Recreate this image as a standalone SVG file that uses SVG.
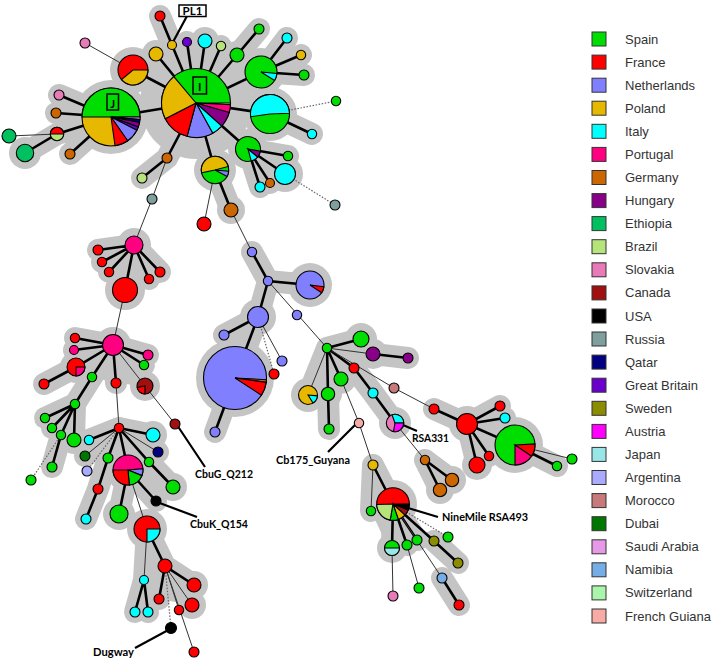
<svg xmlns="http://www.w3.org/2000/svg" width="712" height="659" viewBox="0 0 712 659">
<style>
.h{fill:none;stroke:#c4c4c4;stroke-width:22;stroke-linecap:round;stroke-linejoin:round}
.hc{fill:#c4c4c4}
.T{fill:none;stroke:#000;stroke-width:2.6;stroke-linecap:round}
.t{fill:none;stroke:#333;stroke-width:1}
.d{fill:none;stroke:#666;stroke-width:1.2;stroke-dasharray:1.5 1.6}
.L{fill:none;stroke:#000;stroke-width:2.2}
.n circle,.n path{stroke:#000;stroke-width:1.1}
.sp{fill:#00dd00}.fr{fill:#ff0000}.nl{fill:#8080ff}.pl{fill:#e6b800}.it{fill:#00ffff}.pt{fill:#ff0080}.de{fill:#cc6600}.hu{fill:#880088}.et{fill:#00c060}.br{fill:#b4e47a}.sk{fill:#e87ab8}.ca{fill:#a01010}.us{fill:#000}.ru{fill:#7f9f9f}.qa{fill:#000080}.gb{fill:#6a00cc}.se{fill:#8c8c00}.at{fill:#ff00ff}.jp{fill:#99e6e6}.ar{fill:#aaaaff}.ma{fill:#c87a7a}.du{fill:#007700}.sa{fill:#e699e6}.na{fill:#75aee6}.ch{fill:#aaf5aa}.gf{fill:#f8aaa4}
.lab{font-family:Lato,"Liberation Sans",sans-serif;font-weight:bold;font-size:11.5px;fill:#000}
.leg{font-family:"Liberation Sans",Arial,sans-serif;font-size:13px;fill:#333}
.lg rect{stroke:#333;stroke-width:1}
</style>
<rect width="712" height="659" fill="#fff"/>
<g id="halos">
<path class="h" d="M111,117L196,103 M111,117L59,95 M111,117L56,113 M111,117L70,154 M111,117L57,134L25,153 M196,103L133,70 M196,103L156,54 M196,103L172,45L160,16 M196,103L187,42 M196,103L205,41 M196,103L221,46 M196,103L237,55L259,29 M196,103L261,72L287,38 M261,72L301,55 M261,72L304,75 M196,103L270,114L312,134 M196,103L248,149L288,156 M248,149L285,174 M248,149L270,183 M248,149L260,187 M196,103L215,170L231,210 M196,103L167,158L142,178"/>
<circle class="hc" cx="196" cy="103" r="56"/><circle class="hc" cx="111" cy="117" r="37"/><circle class="hc" cx="133" cy="70" r="23"/><circle class="hc" cx="270" cy="114" r="27"/><circle class="hc" cx="261" cy="72" r="24"/><circle class="hc" cx="248" cy="149" r="20"/><circle class="hc" cx="215" cy="170" r="21"/><circle class="hc" cx="285" cy="174" r="18"/><circle class="hc" cx="231" cy="210" r="14"/><circle class="hc" cx="25" cy="153" r="16"/><circle class="hc" cx="156" cy="54" r="14"/><circle class="hc" cx="205" cy="41" r="14"/><circle class="hc" cx="237" cy="55" r="14"/>
<path class="h" d="M134,245L98,250 M134,245L102,262 M134,245L109,272 M134,245L149,279 M134,245L160,272 M134,245L125,290"/>
<polygon class="hc" points="98,250 134,240 160,272 149,279 125,290 109,272 102,262"/>
<circle class="hc" cx="134" cy="245" r="17"/><circle class="hc" cx="125" cy="290" r="20"/>
<path class="h" d="M113,345L75,338 M113,345L74,350 M113,345L76,367L44,384 M113,345L148,355 M113,345L144,365 M113,345L92,377L75,404 M113,345L116,383 M113,345L145,386 M75,404L45,418 M75,404L52,428 M75,404L61,435L52,467 M75,404L74,440"/>
<polygon class="hc" points="75,338 113,335 148,355 145,386 116,383 92,377 76,367 74,350"/>
<circle class="hc" cx="113" cy="345" r="18"/><circle class="hc" cx="76" cy="367" r="16"/><circle class="hc" cx="145" cy="386" r="15"/><circle class="hc" cx="74" cy="440" r="14"/>
<path class="h" d="M119,428L153,435 M119,428L158,452 M119,428L149,462L173,487 M119,428L89,440 M119,428L85,456 M119,428L108,458L98,489L86,519 M119,428L128,470L119,514 M128,470L156,501"/>
<polygon class="hc" points="89,440 119,422 153,435 158,452 149,462 128,470 108,458"/>
<circle class="hc" cx="128" cy="470" r="22"/><circle class="hc" cx="119" cy="514" r="16"/><circle class="hc" cx="173" cy="487" r="14"/><circle class="hc" cx="153" cy="435" r="14"/>
<path class="h" d="M147,529L144,580 M147,529L165,566L194,585 M165,566L159,599 M165,566L192,605 M144,580L135,612 M144,580L148,612"/>
<polygon class="hc" points="147,529 165,566 194,585 192,605 159,599 148,612 135,612 144,580"/>
<circle class="hc" cx="147" cy="529" r="20"/><circle class="hc" cx="194" cy="585" r="14"/><circle class="hc" cx="192" cy="605" r="14"/>
<path class="h" d="M252,252L268,281L310,285 M268,281L258,317L224,335 M258,317L235,378L215,432"/>
<circle class="hc" cx="235" cy="378" r="39"/><circle class="hc" cx="310" cy="285" r="22"/><circle class="hc" cx="258" cy="317" r="18"/>
<path class="h" d="M327,348L361,339 M327,348L373,354L408,358 M327,348L354,368L373,393L395,423 M327,348L341,379 M327,348L308,395 M327,348L328,394L329,429"/>
<circle class="hc" cx="361" cy="339" r="16"/><circle class="hc" cx="373" cy="354" r="15"/><circle class="hc" cx="395" cy="423" r="16"/><circle class="hc" cx="308" cy="395" r="17"/><circle class="hc" cx="341" cy="379" r="15"/><circle class="hc" cx="328" cy="394" r="14"/>
<path class="h" d="M425,460L452,480 M425,460L440,490"/>
<circle class="hc" cx="452" cy="480" r="14"/><circle class="hc" cx="440" cy="490" r="14"/>
<path class="h" d="M434,409L467,424L500,406 M467,424L505,418 M467,424L477,465 M467,424L489,456 M467,424L515,445L557,466"/>
<polygon class="hc" points="467,414 515,445 477,465"/>
<circle class="hc" cx="467" cy="424" r="18"/><circle class="hc" cx="515" cy="445" r="28"/><circle class="hc" cx="477" cy="465" r="15"/>
<path class="h" d="M373,465L393,504 M373,465L371,511 M393,504L392,548 M393,504L407,545 M393,504L417,540 M434,541L458,563 M442,578L459,605"/>
<polygon class="hc" points="373,465 393,488 417,540 407,545 392,556 371,511"/>
<circle class="hc" cx="393" cy="504" r="24"/><circle class="hc" cx="392" cy="548" r="15"/>
</g>
<g id="connectors">
<path class="T" d="M111,117L196,103 M111,117L59,95 M111,117L56,113 M111,117L70,154 M111,117L57,134L25,153 M196,103L133,70 M196,103L156,54 M196,103L172,45L160,16 M196,103L187,42 M196,103L205,41 M196,103L221,46 M196,103L237,55L259,29 M196,103L261,72L287,38 M261,72L301,55 M261,72L304,75 M196,103L270,114L312,134 M196,103L248,149L288,156 M248,149L285,174 M248,149L270,183 M248,149L260,187 M196,103L215,170L231,210 M196,103L167,158L142,178"/>
<path class="t" d="M57,134L9,136 M133,70L85,43 M215,170L204,224 M167,158L152,199L134,245"/>
<path class="d" d="M270,114L336,101 M285,174L335,205"/>
<path class="T" d="M134,245L98,250 M134,245L102,262 M134,245L109,272 M134,245L149,279 M134,245L160,272 M134,245L125,290"/>
<path class="t" d="M125,290L113,345 M113,345L145,386L175,424 M116,383L119,428"/>
<path class="T" d="M113,345L75,338 M113,345L74,350 M113,345L76,367L44,384 M113,345L148,355 M113,345L144,365 M113,345L92,377L75,404 M113,345L116,383 M75,404L45,418 M75,404L52,428 M75,404L61,435L52,467 M75,404L74,440"/>
<path class="d" d="M61,435L31,480 M119,428L87,471 M165,566L171,628"/>
<path class="T" d="M119,428L153,435 M119,428L149,462L173,487 M119,428L89,440 M119,428L108,458L98,489L86,519 M119,428L128,470L119,514 M128,470L156,501"/>
<path class="t" d="M119,428L158,452 M119,428L85,456 M128,470L147,529L144,580 M165,566L179,610 M165,566L192,605 M165,566L194,652"/>
<path class="T" d="M147,529L165,566L194,585 M165,566L159,599 M144,580L135,612 M144,580L148,612"/>
<path class="t" d="M231,210L252,252 M268,281L327,348 M258,317L282,361"/>
<path class="T" d="M252,252L268,281L310,285 M268,281L258,317L224,335 M258,317L235,378L215,432"/>
<path class="d" d="M258,317L274,374"/>
<path class="T" d="M327,348L361,339 M373,354L408,358 M327,348L354,368L373,393L395,423 M327,348L341,379 M327,348L328,394L329,429"/>
<path class="t" d="M327,348L373,354 M327,348L308,395 M395,423L425,460 M327,348L394,388L434,409 M341,379L359,423L373,465 M373,465L371,511"/>
<path class="T" d="M425,460L452,480 M425,460L440,490 M434,409L467,424L500,406 M467,424L505,418 M467,424L477,465 M467,424L489,456 M467,424L515,445L557,466"/>
<path class="t" d="M515,445L572,459"/>
<path class="T" d="M373,465L393,504 M393,504L392,548 M393,504L407,545 M393,504L417,540 M393,504L434,541L458,563 M442,578L459,605"/>
<path class="t" d="M392,548L393,596 M407,545L419,588 M393,504L442,578"/>
<path class="d" d="M393,504L448,537"/>
<path class="L" d="M187,16L173,42 M177,425L205,467 M157,502L197,517 M172,628L135,648 M355,425L328,452 M403,425L417,431 M408,508L438,517"/>
</g>
<g id="nodes" class="n">
<g id="node-J"><circle class="pl" cx="111" cy="117" r="29"/><path class="sp" d="M82,117A29,29 0 0,1 140,117Z"/><path class="sa" d="M111,117L140,117A29,29 0 0,1 139.89,119.53Z"/><path class="qa" d="M111,117L139.89,119.53A29,29 0 0,1 139.47,122.53Z"/><path class="hu" d="M111,117L139.47,122.53A29,29 0 0,1 138.25,126.92Z"/><path class="gb" d="M111,117L138.25,126.92A29,29 0 0,1 136.84,130.17Z"/><path class="nl" d="M111,117L136.84,130.17A29,29 0 0,1 127.63,140.76Z"/><path class="fr" d="M111,117L127.63,140.76A29,29 0 0,1 115.04,145.72Z"/><rect x="107" y="94" width="11.5" height="16" fill="none" stroke="#000" stroke-width="1.5"/><text class="lab" x="112.7" y="107.5" text-anchor="middle" font-size="13">J</text></g>
<g id="node-I"><circle class="sp" cx="196" cy="103" r="34.5"/><path class="br" d="M196,103L230.5,103A34.5,34.5 0 0,1 230.45,104.81Z"/><path class="pt" d="M196,103L230.45,104.81A34.5,34.5 0 0,1 229.16,112.51Z"/><path class="hu" d="M196,103L229.16,112.51A34.5,34.5 0 0,1 221.64,126.08Z"/><path class="it" d="M196,103L221.64,126.08A34.5,34.5 0 0,1 212.73,133.17Z"/><path class="nl" d="M196,103L212.73,133.17A34.5,34.5 0 0,1 187.07,136.32Z"/><path class="fr" d="M196,103L187.07,136.32A34.5,34.5 0 0,1 165.26,118.66Z"/><path class="pl" d="M196,103L165.26,118.66A34.5,34.5 0 0,1 173.82,76.57Z"/><rect x="193" y="77" width="13.5" height="17" fill="none" stroke="#000" stroke-width="1.5"/><text class="lab" x="199.8" y="91" text-anchor="middle" font-size="14">I</text></g>
<g id="n1"><circle class="br" cx="57" cy="134" r="6.7"/><path class="fr" d="M50.3,134A6.7,6.7 0 0,1 63.7,134Z"/></g>
<g id="n2"><circle class="et" cx="9" cy="136" r="7"/></g>
<g id="n3"><circle class="et" cx="25" cy="153" r="8.7"/></g>
<g id="n4"><circle class="sk" cx="59" cy="95" r="5"/></g>
<g id="n5"><circle class="de" cx="56" cy="113" r="5"/></g>
<g id="n6"><circle class="de" cx="70" cy="154" r="5"/></g>
<g id="n7"><circle class="fr" cx="133" cy="70" r="15"/><path class="pl" d="M133,70L148,70A15,15 0 0,1 121.51,79.64Z"/></g>
<g id="n8"><circle class="sk" cx="85" cy="43" r="5"/></g>
<g id="n9"><circle class="fr" cx="160" cy="16" r="5"/></g>
<g id="n10"><circle class="pl" cx="172" cy="45" r="4.5"/></g>
<g id="n11"><circle class="pl" cx="156" cy="54" r="7"/></g>
<g id="n12"><circle class="gb" cx="187" cy="42" r="4.5"/></g>
<g id="n13"><circle class="it" cx="205" cy="41" r="7"/></g>
<g id="n14"><circle class="br" cx="221" cy="46" r="4.7"/></g>
<g id="n15"><circle class="sp" cx="237" cy="55" r="7"/></g>
<g id="n16"><circle class="sp" cx="259" cy="29" r="5"/></g>
<g id="n17"><circle class="sp" cx="261" cy="72" r="16"/><path class="it" d="M261,72L276.94,73.39A16,16 0 0,1 274.57,80.48Z"/></g>
<g id="n18"><circle class="it" cx="287" cy="38" r="5"/></g>
<g id="n19"><circle class="pl" cx="301" cy="55" r="4.7"/></g>
<g id="n20"><circle class="sp" cx="304" cy="75" r="5"/></g>
<g id="n21"><circle class="sp" cx="270" cy="114" r="19.5"/><path class="it" d="M270,114L250.69,116.71A19.5,19.5 0 1,1 289.49,113.32Z"/></g>
<g id="n22"><circle class="it" cx="312" cy="134" r="4.7"/></g>
<g id="n23"><circle class="sp" cx="336" cy="101" r="4.7"/></g>
<g id="n24"><circle class="sp" cx="248" cy="149" r="12.5"/><path class="hu" d="M248,149L260.31,151.17A12.5,12.5 0 0,1 257.58,157.03Z"/><path class="it" d="M248,149L257.58,157.03A12.5,12.5 0 0,1 251.24,161.07Z"/></g>
<g id="n25"><circle class="sp" cx="288" cy="156" r="4.7"/></g>
<g id="n26"><circle class="it" cx="285" cy="174" r="10.5"/></g>
<g id="n27"><circle class="de" cx="270" cy="183" r="4.5"/></g>
<g id="n28"><circle class="it" cx="260" cy="187" r="5"/></g>
<g id="n29"><circle class="ru" cx="335" cy="205" r="5"/></g>
<g id="n30"><circle class="sp" cx="215" cy="170" r="13.7"/><path class="pl" d="M215,170L201.6,172.85A13.7,13.7 0 0,1 228.23,166.45Z"/><path class="nl" d="M215,170L228.65,171.19A13.7,13.7 0 0,1 227.1,176.43Z"/></g>
<g id="n31"><circle class="fr" cx="204" cy="224" r="7"/></g>
<g id="n32"><circle class="de" cx="231" cy="210" r="7"/></g>
<g id="n33"><circle class="de" cx="167" cy="158" r="5"/></g>
<g id="n34"><circle class="br" cx="142" cy="178" r="5"/></g>
<g id="n35"><circle class="ru" cx="152" cy="199" r="5"/></g>
<g id="n36"><circle class="pt" cx="134" cy="245" r="9"/></g>
<g id="n37"><circle class="fr" cx="98" cy="250" r="5"/></g>
<g id="n38"><circle class="fr" cx="102" cy="262" r="4.7"/></g>
<g id="n39"><circle class="fr" cx="109" cy="272" r="4.7"/></g>
<g id="n40"><circle class="fr" cx="149" cy="279" r="4.7"/></g>
<g id="n41"><circle class="fr" cx="160" cy="272" r="5"/></g>
<g id="n42"><circle class="fr" cx="125" cy="290" r="12.5"/></g>
<g id="n43"><circle class="pt" cx="113" cy="345" r="10.5"/></g>
<g id="n44"><circle class="fr" cx="75" cy="338" r="4.7"/></g>
<g id="n45"><circle class="pt" cx="74" cy="350" r="4.5"/></g>
<g id="n46"><circle class="fr" cx="76" cy="367" r="9"/><path class="pt" d="M76,367L85,367A9,9 0 0,1 76,376Z"/></g>
<g id="n47"><circle class="fr" cx="44" cy="384" r="5"/></g>
<g id="n48"><circle class="pt" cx="148" cy="355" r="5"/></g>
<g id="n49"><circle class="sp" cx="144" cy="365" r="4.7"/></g>
<g id="n50"><circle class="sp" cx="92" cy="377" r="4.7"/></g>
<g id="n51"><circle class="fr" cx="116" cy="383" r="5"/></g>
<g id="n52"><circle class="ca" cx="145" cy="386" r="8"/><path class="fr" d="M145,386L145,394A8,8 0 0,1 137.12,387.39Z"/></g>
<g id="n53"><circle class="ca" cx="175" cy="424" r="5"/></g>
<g id="n54"><circle class="sp" cx="75" cy="404" r="4.7"/></g>
<g id="n55"><circle class="sp" cx="45" cy="418" r="4.7"/></g>
<g id="n56"><circle class="sp" cx="52" cy="428" r="4.7"/></g>
<g id="n57"><circle class="sp" cx="61" cy="435" r="4.7"/></g>
<g id="n58"><circle class="sp" cx="74" cy="440" r="7"/></g>
<g id="n59"><circle class="sp" cx="52" cy="467" r="5"/></g>
<g id="n60"><circle class="sp" cx="31" cy="480" r="5"/></g>
<g id="n61"><circle class="fr" cx="119" cy="428" r="4.7"/></g>
<g id="n62"><circle class="it" cx="153" cy="435" r="7"/></g>
<g id="n63"><circle class="qa" cx="158" cy="452" r="5"/></g>
<g id="n64"><circle class="sp" cx="149" cy="462" r="4.7"/></g>
<g id="n65"><circle class="sp" cx="173" cy="487" r="7"/></g>
<g id="n66"><circle class="it" cx="89" cy="440" r="4.7"/></g>
<g id="n67"><circle class="du" cx="85" cy="456" r="5"/></g>
<g id="n68"><circle class="ar" cx="87" cy="471" r="5"/></g>
<g id="n69"><circle class="sp" cx="108" cy="458" r="5"/></g>
<g id="n70"><circle class="fr" cx="98" cy="489" r="5"/></g>
<g id="n71"><circle class="it" cx="86" cy="519" r="5"/></g>
<g id="n72"><circle class="pt" cx="128" cy="470" r="15"/><path class="nl" d="M128,470L142.94,468.69A15,15 0 0,1 141.91,475.62Z"/><path class="sp" d="M128,470L141.91,475.62A15,15 0 0,1 129.31,484.94Z"/><path class="fr" d="M128,470L129.31,484.94A15,15 0 0,1 113,470Z"/></g>
<g id="n73"><circle class="sp" cx="119" cy="514" r="9"/></g>
<g id="n74"><circle class="us" cx="156" cy="501" r="5"/></g>
<g id="n75"><circle class="fr" cx="147" cy="529" r="13"/><path class="it" d="M147,529L160,529A13,13 0 0,1 147,542Z"/></g>
<g id="n76"><circle class="it" cx="144" cy="580" r="4.5"/></g>
<g id="n77"><circle class="it" cx="135" cy="612" r="5"/></g>
<g id="n78"><circle class="it" cx="148" cy="612" r="5"/></g>
<g id="n79"><circle class="fr" cx="165" cy="566" r="7"/></g>
<g id="n80"><circle class="fr" cx="194" cy="585" r="7"/></g>
<g id="n81"><circle class="fr" cx="159" cy="599" r="5"/></g>
<g id="n82"><circle class="fr" cx="192" cy="605" r="7"/></g>
<g id="n83"><circle class="fr" cx="179" cy="610" r="4.7"/></g>
<g id="n84"><circle class="us" cx="171" cy="628" r="5.5"/></g>
<g id="n85"><circle class="fr" cx="194" cy="652" r="5"/></g>
<g id="n86"><circle class="nl" cx="252" cy="252" r="4.7"/></g>
<g id="n87"><circle class="nl" cx="268" cy="281" r="4.7"/></g>
<g id="n88"><circle class="nl" cx="310" cy="285" r="14"/><path class="fr" d="M310,285L323.9,286.71A14,14 0 0,1 321.61,292.83Z"/></g>
<g id="n89"><circle class="nl" cx="258" cy="317" r="10.5"/></g>
<g id="n90"><circle class="nl" cx="297" cy="315" r="4.7"/></g>
<g id="n91"><circle class="nl" cx="224" cy="335" r="5"/></g>
<g id="n92"><circle class="nl" cx="235" cy="378" r="31.5"/><path class="de" d="M235,378L266.46,379.65A31.5,31.5 0 0,1 266.19,382.38Z"/><path class="fr" d="M235,378L266.19,382.38A31.5,31.5 0 0,1 261.42,395.16Z"/></g>
<g id="n93"><circle class="nl" cx="282" cy="361" r="5"/></g>
<g id="n94"><circle class="fr" cx="274" cy="374" r="5"/></g>
<g id="n95"><circle class="nl" cx="215" cy="432" r="5"/></g>
<g id="n96"><circle class="sp" cx="327" cy="348" r="4.7"/></g>
<g id="n97"><circle class="sp" cx="361" cy="339" r="8"/></g>
<g id="n98"><circle class="hu" cx="373" cy="354" r="7"/></g>
<g id="n99"><circle class="hu" cx="408" cy="358" r="5"/></g>
<g id="n100"><circle class="fr" cx="354" cy="368" r="5"/></g>
<g id="n101"><circle class="it" cx="373" cy="393" r="5"/></g>
<g id="n102"><circle class="sk" cx="395" cy="423" r="8.7"/><path class="it" d="M395,423L392.02,414.82A8.7,8.7 0 0,1 403.7,423Z"/><path class="at" d="M395,423L403.7,423A8.7,8.7 0 0,1 393.49,431.57Z"/></g>
<g id="n103"><circle class="de" cx="425" cy="460" r="4.7"/></g>
<g id="n104"><circle class="de" cx="452" cy="480" r="6.7"/></g>
<g id="n105"><circle class="de" cx="440" cy="490" r="6.7"/></g>
<g id="n106"><circle class="ma" cx="394" cy="388" r="5"/></g>
<g id="n107"><circle class="fr" cx="434" cy="409" r="5"/></g>
<g id="n108"><circle class="fr" cx="467" cy="424" r="10.5"/></g>
<g id="n109"><circle class="fr" cx="500" cy="406" r="5"/></g>
<g id="n110"><circle class="it" cx="505" cy="418" r="5"/></g>
<g id="n111"><circle class="fr" cx="477" cy="465" r="8"/></g>
<g id="n112"><circle class="fr" cx="489" cy="456" r="4.7"/></g>
<g id="n113"><circle class="sp" cx="515" cy="445" r="20"/><path class="fr" d="M515,445L534.97,443.95A20,20 0 0,1 531.58,456.18Z"/><path class="pt" d="M515,445L531.58,456.18A20,20 0 0,1 515,465Z"/></g>
<g id="n114"><circle class="sp" cx="557" cy="466" r="4.7"/></g>
<g id="n115"><circle class="sp" cx="572" cy="459" r="5"/></g>
<g id="n116"><circle class="sp" cx="341" cy="379" r="7"/></g>
<g id="n117"><circle class="gf" cx="359" cy="423" r="4.7"/></g>
<g id="n118"><circle class="pl" cx="373" cy="465" r="5"/></g>
<g id="n119"><circle class="pl" cx="308" cy="395" r="9.5"/><path class="it" d="M308,395L317.46,395.83A9.5,9.5 0 0,1 313.03,403.06Z"/></g>
<g id="n120"><circle class="sp" cx="328" cy="394" r="6.7"/></g>
<g id="n121"><circle class="sp" cx="329" cy="429" r="5"/></g>
<g id="n122"><circle class="fr" cx="393" cy="504" r="16.3"/><path class="us" d="M393,504L409.3,504A16.3,16.3 0 0,1 408.11,510.11Z"/><path class="ca" d="M393,504L408.11,510.11A16.3,16.3 0 0,1 404.92,515.12Z"/><path class="pl" d="M393,504L404.92,515.12A16.3,16.3 0 0,1 398.31,519.41Z"/><path class="sp" d="M393,504L398.31,519.41A16.3,16.3 0 0,1 390.17,520.05Z"/><path class="br" d="M393,504L390.17,520.05A16.3,16.3 0 0,1 376.71,504.57Z"/></g>
<g id="n123"><circle class="sp" cx="371" cy="511" r="4.7"/></g>
<g id="n124"><circle class="sp" cx="392" cy="548" r="7.5"/><path class="jp" d="M384.5,548A7.5,7.5 0 0,0 399.5,548Z"/></g>
<g id="n125"><circle class="sk" cx="393" cy="596" r="5"/></g>
<g id="n126"><circle class="sp" cx="407" cy="545" r="5"/></g>
<g id="n127"><circle class="sp" cx="419" cy="588" r="5"/></g>
<g id="n128"><circle class="sp" cx="417" cy="540" r="5"/></g>
<g id="n129"><circle class="se" cx="434" cy="541" r="5"/></g>
<g id="n130"><circle class="se" cx="458" cy="563" r="5"/></g>
<g id="n131"><circle class="na" cx="442" cy="578" r="5"/></g>
<g id="n132"><circle class="fr" cx="459" cy="605" r="5"/></g>
<g id="n133"><circle class="sp" cx="448" cy="537" r="5"/></g>
</g>
<g id="labels">
<rect x="179" y="5" width="27" height="11.5" fill="#fff" stroke="#000" stroke-width="1.5"/>
<text class="lab" x="192.5" y="14.8" text-anchor="middle" font-size="10">PL1</text>
<text class="lab" x="195" y="477.5" textLength="58" lengthAdjust="spacingAndGlyphs">CbuG_Q212</text>
<text class="lab" x="190" y="528" textLength="58" lengthAdjust="spacingAndGlyphs">CbuK_Q154</text>
<text class="lab" x="93" y="656" textLength="41" lengthAdjust="spacingAndGlyphs">Dugway</text>
<text class="lab" x="276" y="464" textLength="74" lengthAdjust="spacingAndGlyphs">Cb175_Guyana</text>
<text class="lab" x="412" y="442" textLength="37" lengthAdjust="spacingAndGlyphs">RSA331</text>
<text class="lab" x="442" y="521" textLength="86" lengthAdjust="spacingAndGlyphs">NineMile RSA493</text>
</g>
<g id="legend" class="lg">
<rect class="sp" x="592" y="32" width="14" height="14"/><text class="leg" x="625" y="43.5">Spain</text>
<rect class="fr" x="592" y="55.1" width="14" height="14"/><text class="leg" x="625" y="66.6">France</text>
<rect class="nl" x="592" y="78.2" width="14" height="14"/><text class="leg" x="625" y="89.7">Netherlands</text>
<rect class="pl" x="592" y="101.2" width="14" height="14"/><text class="leg" x="625" y="112.7">Poland</text>
<rect class="it" x="592" y="124.3" width="14" height="14"/><text class="leg" x="625" y="135.8">Italy</text>
<rect class="pt" x="592" y="147.4" width="14" height="14"/><text class="leg" x="625" y="158.9">Portugal</text>
<rect class="de" x="592" y="170.5" width="14" height="14"/><text class="leg" x="625" y="182">Germany</text>
<rect class="hu" x="592" y="193.6" width="14" height="14"/><text class="leg" x="625" y="205.1">Hungary</text>
<rect class="et" x="592" y="216.6" width="14" height="14"/><text class="leg" x="625" y="228.1">Ethiopia</text>
<rect class="br" x="592" y="239.7" width="14" height="14"/><text class="leg" x="625" y="251.2">Brazil</text>
<rect class="sk" x="592" y="262.8" width="14" height="14"/><text class="leg" x="625" y="274.3">Slovakia</text>
<rect class="ca" x="592" y="285.9" width="14" height="14"/><text class="leg" x="625" y="297.4">Canada</text>
<rect class="us" x="592" y="309" width="14" height="14"/><text class="leg" x="625" y="320.5">USA</text>
<rect class="ru" x="592" y="332" width="14" height="14"/><text class="leg" x="625" y="343.5">Russia</text>
<rect class="qa" x="592" y="355.1" width="14" height="14"/><text class="leg" x="625" y="366.6">Qatar</text>
<rect class="gb" x="592" y="378.2" width="14" height="14"/><text class="leg" x="625" y="389.7">Great Britain</text>
<rect class="se" x="592" y="401.3" width="14" height="14"/><text class="leg" x="625" y="412.8">Sweden</text>
<rect class="at" x="592" y="424.4" width="14" height="14"/><text class="leg" x="625" y="435.9">Austria</text>
<rect class="jp" x="592" y="447.4" width="14" height="14"/><text class="leg" x="625" y="458.9">Japan</text>
<rect class="ar" x="592" y="470.5" width="14" height="14"/><text class="leg" x="625" y="482">Argentina</text>
<rect class="ma" x="592" y="493.6" width="14" height="14"/><text class="leg" x="625" y="505.1">Morocco</text>
<rect class="du" x="592" y="516.7" width="14" height="14"/><text class="leg" x="625" y="528.2">Dubai</text>
<rect class="sa" x="592" y="539.8" width="14" height="14"/><text class="leg" x="625" y="551.3">Saudi Arabia</text>
<rect class="na" x="592" y="562.8" width="14" height="14"/><text class="leg" x="625" y="574.3">Namibia</text>
<rect class="ch" x="592" y="585.9" width="14" height="14"/><text class="leg" x="625" y="597.4">Switzerland</text>
<rect class="gf" x="592" y="609" width="14" height="14"/><text class="leg" x="625" y="620.5">French Guiana</text>
</g>
</svg>
